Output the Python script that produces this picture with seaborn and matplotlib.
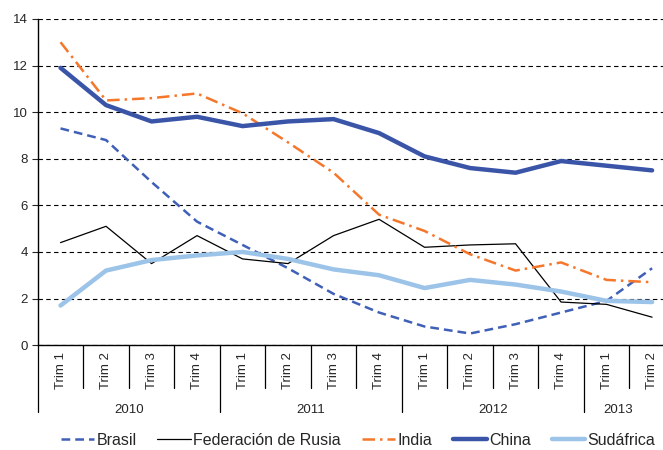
import pandas as pd
import matplotlib.pyplot as plt
import seaborn as sns

# quarterly growth, 2010 T1 .. 2013 T2
quarters = ["Trim 1", "Trim 2", "Trim 3", "Trim 4"] * 3 + ["Trim 1", "Trim 2"]
years = ["2010", "2011", "2012", "2013"]
brasil = [9.3, 8.8, 7.0, 5.3, 4.3, 3.3, 2.2, 1.4, 0.8, 0.5, 0.9, 1.4, 1.9, 3.3]
rusia = [4.4, 5.1, 3.5, 4.7, 3.7, 3.5, 4.7, 5.4, 4.2, 4.3, 4.35, 1.85, 1.75, 1.2]
india = [13.0, 10.5, 10.6, 10.8, 9.95, 8.7, 7.4, 5.6, 4.9, 3.9, 3.2, 3.55, 2.8, 2.7]
china = [11.9, 10.3, 9.6, 9.8, 9.4, 9.6, 9.7, 9.1, 8.1, 7.6, 7.4, 7.9, 7.7, 7.5]
sudafrica = [1.7, 3.2, 3.65, 3.85, 4.0, 3.7, 3.25, 3.0, 2.45, 2.8, 2.6, 2.3, 1.9, 1.85]

series = {
    "Brasil": (brasil, "#4060B8", 1.8, (3.5, 2)),
    "Federación de Rusia": (rusia, "black", 0.9, None),
    "India": (india, "#F5772B", 1.8, (5, 2, 1, 2)),
    "China": (china, "#3A55A8", 3.2, None),
    "Sudáfrica": (sudafrica, "#9CC3E8", 3.2, None),
}

sns.set_style("white")
plt.rcParams["font.family"] = ["Liberation Sans", "DejaVu Sans"]

fig = plt.figure(figsize=(6.63, 4.5), dpi=100)
ax = fig.add_axes([0.057, 0.233, 0.943, 0.725])

x = list(range(len(quarters)))
for name, (vals, color, lw, dash) in series.items():
    df = pd.DataFrame({"q": x, "v": vals})
    sns.lineplot(data=df, x="q", y="v", ax=ax, color=color, lw=lw, label=name,
                 solid_capstyle="round")
    if dash is not None:
        ax.lines[-1].set_dashes(dash)

ax.set_ylim(0, 14)
ax.set_xlim(-0.5, 13.24)
ax.set_yticks(range(0, 15, 2))
ax.yaxis.grid(True, color="black", lw=0.8, ls=(0, (4, 3)))
ax.set_axisbelow(True)
ax.tick_params(axis="y", length=4, width=0.8, labelsize=9.5, left=True, pad=3)
ax.set_xticks(x)
ax.set_xticklabels(quarters, rotation=90, fontsize=9.5)
ax.tick_params(axis="x", length=0, pad=5)
ax.set_xlabel("")
ax.set_ylabel("")
for s in ["top", "right"]:
    ax.spines[s].set_visible(False)
for s in ["left", "bottom"]:
    ax.spines[s].set_color("black")
    ax.spines[s].set_linewidth(1)

# category separators below the axis
trans = ax.get_xaxis_transform()
for i in range(14):
    b = i - 0.5
    low = -0.206 if i in (0, 4, 8, 12) else -0.132
    ax.plot([b, b], [0, low], color="black", lw=0.9, transform=trans, clip_on=False)

for yr, xc in zip(years, [1.5, 5.5, 9.5, 12.25]):
    ax.text(xc, -0.2, yr, transform=trans, ha="center", va="center", fontsize=9.5)

ax.get_legend().remove()
handles, labels = ax.get_legend_handles_labels()
fig.legend(handles, labels, loc="center", bbox_to_anchor=(0.54, 0.022), ncol=5,
           frameon=False, fontsize=11.5, handlelength=2.1, handletextpad=0.15,
           columnspacing=1.3)

fig.savefig("out.png", dpi=100)
